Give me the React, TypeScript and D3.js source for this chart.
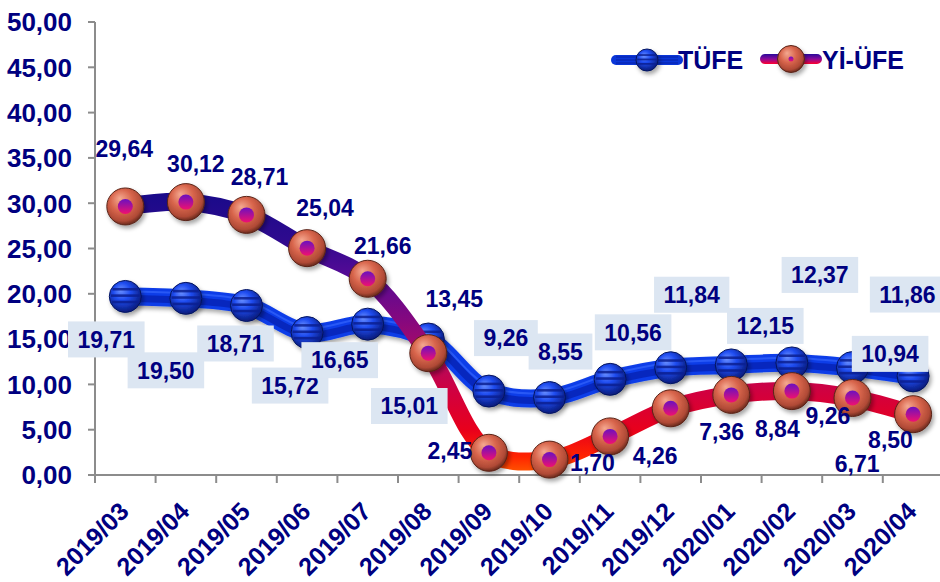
import React, { useEffect, useRef } from 'react';
import * as d3 from 'd3';

const months = [
  '2019/03', '2019/04', '2019/05', '2019/06', '2019/07', '2019/08', '2019/09',
  '2019/10', '2019/11', '2019/12', '2020/01', '2020/02', '2020/03', '2020/04',
];
const tufe = [19.71, 19.5, 18.71, 15.72, 16.65, 15.01, 9.26, 8.55, 10.56, 11.84, 12.15, 12.37, 11.86, 10.94];
const yiufe = [29.64, 30.12, 28.71, 25.04, 21.66, 13.45, 2.45, 1.7, 4.26, 7.36, 8.84, 9.26, 8.5, 6.71];
const yTicks = [0, 5, 10, 15, 20, 25, 30, 35, 40, 45, 50];
const seriesNames = ['TÜFE', 'Yİ-ÜFE'];

// label offsets (px) from each point, as placed in the original
const tufeLabelOffsets: [number, number][] = [
  [-19, 43], [-20, 72], [-11, 38], [-17, 53], [-28, 36], [-19, 67], [17, -53],
  [11, -46], [23, -47], [21, -73], [34, -39], [28, -88], [55, -73], [-23, -22],
];
const yiufeLabelOffsets: [number, number][] = [
  [-1, -58], [10, -38], [13, -38], [18, -40], [15, -33], [26, -54], [-39, -2],
  [43, 3], [45, 19], [51, 23], [46, 34], [36, 25], [38, 42], [-56, 50],
];

const W = 940;
const H = 582;
const NAVY = '#000080';
const FONT = '"Liberation Sans", Arial, sans-serif';

const trFormat = d3.formatLocale({ decimal: ',', thousands: '.', grouping: [3], currency: ['', ''] }).format('.2f');

const App: React.FC = () => {
  const ref = useRef<SVGSVGElement>(null);

  useEffect(() => {
    if (!ref.current) return;
    const root = d3.select(ref.current);
    root.selectAll('*').remove();
    root.attr('width', W).attr('height', H);

    const left = 95;
    const step = 60.6;
    const x = d3.scaleBand().domain(months).range([left, left + step * months.length]).padding(0);
    const y = d3.scaleLinear().domain([0, 50]).range([475, 22]);
    const cx = (m: string) => (x(m) as number) + x.bandwidth() / 2;

    const defs = root.append('defs');

    // shadow
    const sh = defs.append('filter').attr('id', 'shadow').attr('x', '-50%').attr('y', '-50%').attr('width', '200%').attr('height', '200%');
    sh.append('feDropShadow').attr('dx', 2).attr('dy', 3).attr('stdDeviation', 2).attr('flood-color', '#000').attr('flood-opacity', 0.35);

    // Yİ-ÜFE vertical gradient by value
    const lg = defs.append('linearGradient').attr('id', 'yiGrad').attr('gradientUnits', 'userSpaceOnUse')
      .attr('x1', 0).attr('x2', 0).attr('y1', y(31)).attr('y2', y(-1.5));
    [
      [31, '#1A0A8A'], [26, '#2E0A8E'], [22, '#560A96'], [17, '#86087E'], [13, '#B00A62'],
      [9, '#D2003E'], [5, '#E8001C'], [2, '#FF2400'], [-1.5, '#FF8A00'],
    ].forEach(([v, c]) => {
      lg.append('stop').attr('offset', (y(v as number) - y(31)) / (y(-1.5) - y(31))).attr('stop-color', c as string);
    });
    const lgLeg = defs.append('linearGradient').attr('id', 'yiLeg').attr('x1', 0).attr('x2', 0).attr('y1', 0).attr('y2', 1);
    lgLeg.append('stop').attr('offset', 0).attr('stop-color', '#2A0A9A');
    lgLeg.append('stop').attr('offset', 0.5).attr('stop-color', '#8A0A9A');
    lgLeg.append('stop').attr('offset', 1).attr('stop-color', '#FF0030');

    // blue sphere
    const bs = defs.append('radialGradient').attr('id', 'blueBall').attr('cx', '45%').attr('cy', '40%').attr('r', '60%').attr('fx', '35%').attr('fy', '30%');
    bs.append('stop').attr('offset', 0).attr('stop-color', '#6A90FF');
    bs.append('stop').attr('offset', 0.45).attr('stop-color', '#1F4CF0');
    bs.append('stop').attr('offset', 1).attr('stop-color', '#081A7A');
    // salmon sphere
    const rs = defs.append('radialGradient').attr('id', 'redBall').attr('cx', '45%').attr('cy', '40%').attr('r', '60%').attr('fx', '35%').attr('fy', '28%');
    rs.append('stop').attr('offset', 0).attr('stop-color', '#F4A890');
    rs.append('stop').attr('offset', 0.5).attr('stop-color', '#D8654C');
    rs.append('stop').attr('offset', 0.85).attr('stop-color', '#B04A36');
    rs.append('stop').attr('offset', 1).attr('stop-color', '#6A2A1E');
    const dot = defs.append('linearGradient').attr('id', 'dotGrad').attr('x1', 0).attr('x2', 0).attr('y1', 0).attr('y2', 1);
    dot.append('stop').attr('offset', 0).attr('stop-color', '#6A10C0');
    dot.append('stop').attr('offset', 1).attr('stop-color', '#F01070');

    const g = root.append('g');

    // axes
    g.append('line').attr('x1', left).attr('x2', W).attr('y1', y(0)).attr('y2', y(0))
      .attr('stroke', '#8C8C8C').attr('stroke-width', 2);
    g.append('line').attr('x1', left).attr('x2', left).attr('y1', y(50)).attr('y2', y(0))
      .attr('stroke', '#8C8C8C').attr('stroke-width', 2);
    months.forEach((m) => {
      const xe = x(m) as number;
      g.append('line').attr('x1', xe).attr('x2', xe).attr('y1', y(0)).attr('y2', y(0) + 8)
        .attr('stroke', '#8C8C8C').attr('stroke-width', 2);
    });
    g.append('line').attr('x1', left + step * months.length).attr('x2', left + step * months.length)
      .attr('y1', y(0)).attr('y2', y(0) + 8).attr('stroke', '#8C8C8C').attr('stroke-width', 2);
    yTicks.forEach((t) => {
      g.append('line').attr('x1', left - 7).attr('x2', left).attr('y1', y(t)).attr('y2', y(t))
        .attr('stroke', '#8C8C8C').attr('stroke-width', 2);
      g.append('text').attr('x', 72).attr('y', y(t)).attr('dy', '0.36em')
        .attr('text-anchor', 'end').attr('fill', NAVY)
        .style('font', `bold 26px ${FONT}`).text(trFormat(t));
    });
    months.forEach((m) => {
      g.append('text')
        .attr('transform', `translate(${cx(m) + 5},${y(0) + 38}) rotate(-45)`)
        .attr('text-anchor', 'end').attr('fill', NAVY)
        .style('font', `bold 25px ${FONT}`).text(m);
    });

    const line = d3.line<number>()
      .x((_, i) => cx(months[i]))
      .y((d) => y(d))
      .curve(d3.curveCatmullRom.alpha(0.5));

    // TÜFE tube
    g.append('path').attr('d', line(tufe)).attr('fill', 'none').attr('stroke', '#0A3CE8').attr('stroke-width', 18)
      .attr('stroke-linecap', 'round').attr('filter', 'url(#shadow)');
    g.append('path').attr('d', line(tufe)).attr('fill', 'none').attr('stroke', '#0620B0').attr('stroke-width', 7)
      .attr('stroke-opacity', 0.75).attr('transform', 'translate(0,2)');
    g.append('path').attr('d', line(tufe)).attr('fill', 'none').attr('stroke', '#3A6BFF').attr('stroke-width', 2)
      .attr('transform', 'translate(0,-5)').attr('stroke-opacity', 0.6);

    const blueBall = (sel: d3.Selection<SVGGElement, unknown, null, undefined>, r: number) => {
      sel.append('circle').attr('r', r).attr('fill', 'url(#blueBall)').attr('stroke', '#061560').attr('stroke-width', 1)
        .attr('filter', 'url(#shadow)');
      [-0.45, -0.05, 0.35].forEach((f) => {
        const yy = f * r;
        const hw = Math.sqrt(r * r - yy * yy) * 0.9;
        sel.append('line').attr('x1', -hw).attr('x2', hw).attr('y1', yy).attr('y2', yy)
          .attr('stroke', '#0A1E90').attr('stroke-width', r * 0.16).attr('stroke-opacity', 0.85);
      });
    };
    const redBall = (sel: d3.Selection<SVGGElement, unknown, null, undefined>, r: number, dr: number) => {
      sel.append('circle').attr('r', r).attr('fill', 'url(#redBall)').attr('stroke', '#5A2418').attr('stroke-width', 1)
        .attr('filter', 'url(#shadow)');
      sel.append('circle').attr('r', dr).attr('fill', 'url(#dotGrad)');
    };

    tufe.forEach((v, i) => {
      const b = g.append('g').attr('transform', `translate(${cx(months[i])},${y(v)})`);
      blueBall(b, 16);
    });

    // Yİ-ÜFE line
    g.append('path').attr('d', line(yiufe)).attr('fill', 'none').attr('stroke', 'url(#yiGrad)').attr('stroke-width', 18)
      .attr('stroke-linecap', 'round');
    yiufe.forEach((v, i) => {
      const b = g.append('g').attr('transform', `translate(${cx(months[i])},${y(v)})`);
      redBall(b, 18.5, 7.5);
    });

    // labels
    tufe.forEach((v, i) => {
      const [dx, dy] = tufeLabelOffsets[i];
      const lx = cx(months[i]) + dx;
      const ly = y(v) + dy;
      const lb = g.append('g');
      const rect = lb.append('rect').attr('fill', '#DCE6F2');
      const t = lb.append('text').attr('x', lx).attr('y', ly).attr('dy', '0.36em').attr('text-anchor', 'middle')
        .attr('fill', NAVY).style('font', `bold 23px ${FONT}`).text(trFormat(v));
      const tw = (t.node() as SVGTextElement).getComputedTextLength();
      rect.attr('x', lx - tw / 2 - 9.5).attr('y', ly - 18).attr('width', tw + 19).attr('height', 36);
    });
    yiufe.forEach((v, i) => {
      const [dx, dy] = yiufeLabelOffsets[i];
      g.append('text').attr('x', cx(months[i]) + dx).attr('y', y(v) + dy).attr('dy', '0.36em')
        .attr('text-anchor', 'middle').attr('fill', NAVY).style('font', `bold 23px ${FONT}`).text(trFormat(v));
    });

    // legend
    const leg = g.append('g');
    const l1 = leg.append('g').attr('transform', 'translate(647,60)');
    l1.append('line').attr('x1', -31).attr('x2', 31).attr('stroke', '#0A36D8').attr('stroke-width', 10).attr('stroke-linecap', 'round');
    [-3, 0, 3].forEach((o) => l1.append('line').attr('x1', -31).attr('x2', 31).attr('y1', o).attr('y2', o)
      .attr('stroke', '#0620A8').attr('stroke-width', 1));
    blueBall(l1, 11);
    leg.append('text').attr('x', 678).attr('y', 60).attr('dy', '0.36em').attr('fill', NAVY)
      .style('font', `bold 25px ${FONT}`).text(seriesNames[0]);
    const l2 = leg.append('g').attr('transform', 'translate(791,59)');
    l2.append('rect').attr('x', -31).attr('y', -5).attr('width', 62).attr('height', 10).attr('rx', 5).attr('fill', 'url(#yiLeg)');
    redBall(l2, 13.5, 2.5);
    leg.append('text').attr('x', 822).attr('y', 60).attr('dy', '0.36em').attr('fill', NAVY)
      .style('font', `bold 25px ${FONT}`).text(seriesNames[1]);
  }, []);

  return (
    <div style={{ position: 'absolute', left: 0, top: 0, background: '#fff' }}>
      <svg ref={ref} style={{ display: 'block' }}></svg>
    </div>
  );
};

export default App;
